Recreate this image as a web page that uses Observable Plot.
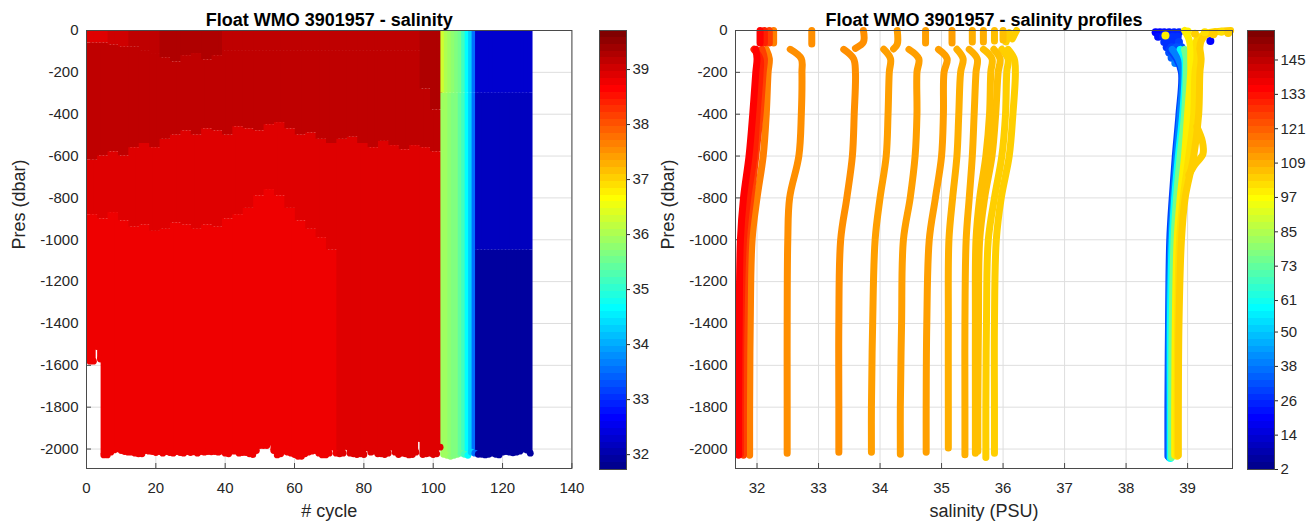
<!DOCTYPE html>
<html><head><meta charset="utf-8">
<script src="https://cdn.jsdelivr.net/npm/d3@7"></script>
<script src="https://cdn.jsdelivr.net/npm/@observablehq/plot@0.6"></script>
<style>
html,body{margin:0;padding:0;background:#fff;}
body{width:1313px;height:523px;overflow:hidden;position:relative;font-family:"Liberation Sans",Arial,sans-serif;}
.pane{position:absolute;top:0;}
</style></head><body>
<div id="leftPlot" class="pane" style="left:0px"></div>
<div id="leftBar" class="pane" style="left:599px"></div>
<div id="rightPlot" class="pane" style="left:660px"></div>
<div id="rightBar" class="pane" style="left:1247px"></div>
<script>
// ---------------- data ----------------
const titleLeft = "Float WMO 3901957 - salinity";
const titleRight = "Float WMO 3901957 - salinity profiles";
const xLabelLeft = "# cycle";
const xLabelRight = "salinity (PSU)";
const yLabel = "Pres (dbar)";

const xTicksLeft = [0, 20, 40, 60, 80, 100, 120, 140];
const xTicksRight = [32, 33, 34, 35, 36, 37, 38, 39];
const yTicks = [0, -200, -400, -600, -800, -1000, -1200, -1400, -1600, -1800, -2000];
const salBarTicks = [32, 33, 34, 35, 36, 37, 38, 39];
const cycleBarTicks = [2, 14, 26, 38, 50, 61, 73, 85, 97, 109, 121, 133, 145];

const salDomain = [31.73, 39.71];
const cycleColourDomain = [2, 155.3];
const presDomain = [-2093, 0];
const cycleDomain = [0, 140];
const salAxisDomain = [31.65, 39.73];

// left panel: cycles and deepest pressure of each cycle
const cycleNums = d3.range(1, 129);
const bottomPres = [
 -1580,-1580,-1510,-1570,-2028,-2028,-2015,-2004,-1999,-2007,
 -2012,-2015,-2015,-2020,-2023,-2023,-2007,-2010,-2012,-2017,
 -2012,-2020,-2012,-2017,-2020,-2012,-2017,-2020,-2012,-2017,
 -2013,-2020,-2012,-2015,-2012,-2013,-2012,-2015,-2010,-2020,
 -2023,-2010,-2010,-2020,-2017,-2017,-2023,-2026,-2007,-1983,
 -1983,-1983,-1967,-2007,-2028,-2023,-2010,-2015,-2020,-2026,
 -2035,-2035,-2023,-2015,-2010,-2007,-2020,-2028,-2028,-2020,
 -1991,-2020,-2023,-2020,-1988,-2020,-2023,-2026,-2023,-2026,
 -1994,-2015,-2010,-2023,-2023,-2026,-2020,-1991,-2015,-2026,
 -2020,-2023,-2028,-2026,-2015,-1950,-2026,-2023,-2020,-2026,
 -2023,-1991,-2025,-2030,-2035,-2030,-2025,-2020,-2025,-2030,
 -2015,-2020,-2025,-2025,-2028,-2025,-2020,-2025,-2028,-2015,
 -2012,-2015,-2018,-2015,-2010,-2000,-2005,-2020];

// cycles 1-102 (salty water), described in blocks of 3 cycles
const surfBandSal = [38.95,38.95,39.02,39.02,39.1,39.15,39.2,39.27,39.27,39.27,39.27,39.27,39.27,39.2,39.15,39.15,39.15,39.15,39.15,39.15,39.15,39.15,39.15,39.15,39.15,39.15,39.15,39.15,39.15,39.15,39.15,39.15,39.27,39.27];
const surfBandBottom = [-60,-60,-70,-80,-80,-100,-110,-130,-150,-120,-110,-140,-120,-100,-100,-100,-100,-100,-100,-100,-100,-100,-100,-100,-100,-100,-100,-100,-100,-100,-100,-100,-280,-380];
const upperLayerBottom = [-620,-600,-580,-600,-560,-540,-560,-520,-500,-480,-500,-470,-480,-500,-460,-470,-480,-450,-440,-470,-500,-490,-520,-540,-520,-510,-540,-560,-530,-550,-570,-550,-560,-580];
const midLayerBottom = [-880,-900,-870,-910,-940,-930,-960,-950,-920,-930,-950,-930,-940,-900,-880,-850,-790,-760,-790,-850,-910,-950,-990,-1050];
const upperSal = 39.15, midSal = 38.9, deepSal = 38.8;
// cycles 103-112
const stripSplit = -300;
const stripUpperSal = [36.25, 36.05, 35.9, 35.8, 35.7, 35.5, 35.15, 34.7, 34.3, 33.6];
const stripLowerSal = [35.95, 35.85, 35.75, 35.7, 35.65, 35.45, 35.1, 34.7, 34.3, 33.5];
// cycles 113-128
const blueBreaks = [-300, -1050];
const blueSal = [32.3, 32.15, 31.9];

// right panel: profiles (colour value on the right colour bar)
const stdPres = [-90, -135, -200, -400, -600, -800, -1000, -1400, -1800];
const profColour = [30, 40, 58, 76, 98, 101, 104, 103, 104, 106, 106, 109, 109, 111, 111, 111, 113, 114, 116, 126, 130, 135];
const profMainSal = [
 [38.70,38.82,38.90,38.86,38.80,38.75,38.71,38.69,38.68,38.68],
 [38.75,38.85,38.92,38.88,38.82,38.77,38.73,38.70,38.70,38.70],
 [38.88,38.95,38.96,38.92,38.85,38.79,38.75,38.72,38.72,38.72],
 [38.95,38.98,38.98,38.95,38.88,38.82,38.78,38.75,38.74,38.74],
 [39.05,39.05,39.05,39.00,38.95,38.88,38.83,38.80,38.79,38.79],
 [39.15,39.15,39.12,39.10,39.02,38.93,38.87,38.84,38.83,38.83],
 [39.20,39.22,39.20,39.18,39.10,38.96,38.90,38.86,38.85,38.85],
 [36.08,36.18,36.20,36.16,36.10,35.97,35.89,35.86,35.86,35.86],
 [35.98,36.08,36.06,36.04,35.98,35.86,35.76,35.73,35.72,35.72],
 [35.85,35.95,35.92,35.88,35.82,35.70,35.62,35.60,35.59,35.59],
 [35.68,35.82,35.80,35.78,35.72,35.62,35.56,35.55,35.55,35.55],
 [35.45,35.58,35.56,35.53,35.50,35.45,35.40,35.38,35.38,35.38],
 [35.25,35.35,35.31,35.28,35.25,35.18,35.12,35.11,35.11,35.11],
 [34.95,35.09,35.04,35.03,35.00,34.90,34.80,34.76,34.75,34.75],
 [34.47,34.63,34.60,34.60,34.57,34.49,34.38,34.35,34.33,34.33],
 [34.06,34.17,34.15,34.13,34.10,34.00,33.92,33.88,33.86,33.86],
 [33.41,33.57,33.60,33.58,33.55,33.46,33.36,33.33,33.33,33.33],
 [32.54,32.72,32.73,32.72,32.68,32.53,32.50,32.49,32.49,32.49],
 [32.15,32.20,32.18,32.15,32.10,32.00,31.92,31.89,31.88,31.88],
 [32.08,32.12,32.10,32.05,31.98,31.90,31.82,31.79,31.78,31.78],
 [31.95,32.05,32.05,32.00,31.95,31.85,31.78,31.74,31.73,31.73],
 [31.98,32.00,31.98,31.93,31.87,31.78,31.73,31.71,31.70,31.70]];
const profBottom = [-2035,-2040,-2045,-2040,-2030,-2035,-2030,-2020,-2040,-2010,-2020,-2027,-1995,-2015,-2025,-2015,-2015,-2020,-2030,-2030,-2025,-2030];
// near-surface pieces of each profile
const profSurfSal = [[],[],[],[],[38.95,39.02,39.05],[39.45,39.3,39.15,39.15],[39.7,39.5,39.3,39.22,39.2],
 [36.22,36.15],[36.1,36.05],[36.0,36.0],[35.86,35.86],[35.68,35.68],[35.5,35.5],[35.17,35.17],[34.74,34.74],
 [34.28,34.28,34.22],[33.73,33.73,33.6],[32.89,32.89],[32.27,32.27],[32.2,32.2],[32.12,32.12],[32.05,32.05]];
const profSurfPres = [[],[],[],[],[0,-40,-80],[-5,-15,-45,-80],[0,-5,-20,-50,-80],
 [0,-40],[-10,-55],[0,-45],[0,-50],[0,-55],[0,-55],[0,-60],[0,-60],
 [0,-65,-88],[0,-55,-85],[0,-65],[0,-60],[0,-60],[0,-60],[0,-60]];
// mid-depth loop of the saltiest profile
const loopSal = [39.15, 39.24, 39.25, 39.12, 39.02];
const loopPres = [-460, -530, -590, -640, -690];
// scattered near-surface samples in the salty cluster
const blobSal = [38.48,38.55,38.62,38.70,38.78,38.86, 38.52,38.60,38.68,38.76,38.84, 38.62,38.70,38.78,38.86, 38.66,38.74,38.82,38.90, 38.70,38.78,38.86,38.94, 38.74,38.82,38.90, 38.80,38.88,38.95, 39.37,
                 39.0,39.12,39.28,39.42,39.55,39.66, 38.64];
const blobPres = [-8,-8,-8,-8,-8,-8, -30,-30,-30,-30,-30, -55,-55,-55,-55, -80,-80,-80,-80, -105,-105,-105,-105, -130,-130,-130, -155,-155,-155, -50,
                  -5,-15,-8,-18,-6,-12, -24];
const blobColour = [20,20,22,22,24,24, 22,24,24,26,26, 26,28,28,30, 28,30,32,32, 32,34,34,36, 34,36,38, 38,40,42, 20,
                    100,103,101,103,101,103, 100];

// ---------------- colour map (MATLAB jet, 64 levels) ----------------
function jet64(t) {
  const i = Math.max(1, Math.min(64, Math.floor(t * 64) + 1));
  const u = k => (k < 1 || k > 47) ? 0 : k <= 16 ? k / 16 : k <= 31 ? 1 : (48 - k) / 16;
  const r = u(i - 24), g = u(i - 8), b = u(i + 8);
  return `rgb(${Math.round(255*r)},${Math.round(255*g)},${Math.round(255*b)})`;
}

// ---------------- build tables ----------------
const cells = [], bottomDots = [];
cycleNums.forEach((c, k) => {
  const bottom = bottomPres[k];
  let layers;
  if (c <= 102) {
    const b = Math.floor((c - 1) / 3);
    const hasDeep = b < midLayerBottom.length;
    const lower = hasDeep ? midLayerBottom[b] : bottom;
    layers = [[0, surfBandBottom[b], surfBandSal[b]], [surfBandBottom[b], upperLayerBottom[b], upperSal], [upperLayerBottom[b], lower, midSal]];
    if (hasDeep) layers.push([lower, bottom, deepSal]);
  } else if (c <= 112) {
    const j = c - 103;
    layers = [[0, stripSplit, stripUpperSal[j]], [stripSplit, bottom, stripLowerSal[j]]];
  } else {
    layers = [[0, blueBreaks[0], blueSal[0]], [blueBreaks[0], blueBreaks[1], blueSal[1]], [blueBreaks[1], bottom, blueSal[2]]];
  }
  let last = null;
  for (const [p1, p2, sal] of layers) {
    const lo = Math.max(p2, bottom);
    if (lo < p1) { cells.push({x1: c - 0.5, x2: c + 0.5, p1, p2: lo, sal}); last = sal; }
  }
  bottomDots.push({cycle: c, pres: bottom, sal: last});
});

const lineRows = [];
const order = d3.range(profColour.length).sort((a, b) => profColour[a] - profColour[b]);
for (const i of order) {
  const col = profColour[i];
  profSurfSal[i].forEach((s, j) => lineRows.push({id: i + "s", sal: s, pres: profSurfPres[i][j], col}));
  const pres = [...stdPres, profBottom[i]];
  profMainSal[i].forEach((s, j) => lineRows.push({id: i + "m", sal: s, pres: pres[j], col}));
  if (i === 6) loopSal.forEach((s, j) => lineRows.push({id: "loop", sal: s, pres: loopPres[j], col}));
}
const blobs = blobSal.map((s, j) => ({sal: s, pres: blobPres[j], col: blobColour[j]}));
const blobsBlue = blobs.filter(d => d.col < 60);
const blobsYellow = blobs.filter(d => d.col >= 60);

// ---------------- plots ----------------
const fontFamily = '"Liberation Sans", Arial, Helvetica, sans-serif';
const baseStyle = {fontFamily, fontSize: "15px", color: "#262626", background: "transparent", overflow: "visible"};
const gridColour = "#dedede";
const frameColour = "#4a4a4a";
const fmt = d => String(d);

function titleMarks(title, xlab) {
  return [
    Plot.text([title], {text: d => d, frameAnchor: "top", dy: -10, lineAnchor: "middle", fontWeight: "bold", fontSize: 18, fill: "#000"}),
    Plot.text([xlab], {text: d => d, frameAnchor: "bottom", dy: 43, lineAnchor: "middle", fontSize: 18, fill: "#262626"}),
    Plot.text([yLabel], {text: d => d, frameAnchor: "left", dx: -67, rotate: -90, lineAnchor: "middle", fontSize: 18, fill: "#262626"})
  ];
}

const leftW = 590, leftML = 86, leftMR = 18.6, mt = 30, mb = 55;
const leftInner = leftW - leftML - leftMR, innerH = 523 - mt - mb;
const left = Plot.plot({
  width: leftW, height: 523,
  marginLeft: leftML, marginRight: leftMR, marginTop: mt, marginBottom: mb,
  style: baseStyle,
  x: {domain: cycleDomain, ticks: xTicksLeft, tickSize: 0, tickPadding: 14, tickFormat: fmt, label: null},
  y: {domain: presDomain, ticks: yTicks, tickSize: 0, tickPadding: 8, tickFormat: fmt, label: null},
  color: {type: "linear", domain: salDomain, interpolate: jet64, clamp: true},
  marks: [
    Plot.gridX(xTicksLeft, {stroke: gridColour, strokeOpacity: 1}),
    Plot.gridY(yTicks, {stroke: gridColour, strokeOpacity: 1}),
    Plot.ruleX(xTicksLeft, {stroke: frameColour, insetTop: innerH - 5}),
    Plot.ruleY(yTicks, {stroke: frameColour, insetRight: leftInner - 5}),
    Plot.rect(cells, {x1: "x1", x2: "x2", y1: "p1", y2: "p2", fill: "sal", insetLeft: -1, insetRight: -1}),
    Plot.dot(bottomDots, {x: "cycle", y: "pres", r: 3.4, fill: "sal", stroke: null}),
    Plot.frame({stroke: frameColour}),
    ...titleMarks(titleLeft, xLabelLeft)
  ]
});
document.getElementById("leftPlot").append(left);

const rightW = 590, rightML = 75, rightMR = 18;
const rightInner = rightW - rightML - rightMR;
const right = Plot.plot({
  width: rightW, height: 523,
  marginLeft: rightML, marginRight: rightMR, marginTop: mt, marginBottom: mb,
  style: baseStyle,
  x: {domain: salAxisDomain, ticks: xTicksRight, tickSize: 0, tickPadding: 14, tickFormat: fmt, label: null},
  y: {domain: presDomain, ticks: yTicks, tickSize: 0, tickPadding: 8, tickFormat: fmt, label: null},
  color: {type: "linear", domain: cycleColourDomain, interpolate: jet64, clamp: true},
  marks: [
    Plot.gridX(xTicksRight, {stroke: gridColour, strokeOpacity: 1}),
    Plot.gridY(yTicks, {stroke: gridColour, strokeOpacity: 1}),
    Plot.ruleX(xTicksRight, {stroke: frameColour, insetTop: innerH - 5}),
    Plot.ruleY(yTicks, {stroke: frameColour, insetRight: rightInner - 5}),
    Plot.dot(blobsBlue, {x: "sal", y: "pres", r: 4, fill: "col", stroke: null}),
    Plot.line(lineRows, {x: "sal", y: "pres", z: "id", stroke: "col", strokeWidth: 7, strokeLinecap: "round", strokeLinejoin: "round", curve: "catmull-rom"}),
    Plot.dot(blobsYellow, {x: "sal", y: "pres", r: 4, fill: "col", stroke: null}),
    Plot.frame({stroke: frameColour}),
    ...titleMarks(titleRight, xLabelRight)
  ]
});
document.getElementById("rightPlot").append(right);

function colourBar(domain, ticks) {
  const [lo, hi] = domain;
  const bands = d3.range(64).map(i => ({y1: lo + (hi - lo) * i / 64, y2: lo + (hi - lo) * (i + 1) / 64, v: lo + (hi - lo) * (i + 0.5) / 64}));
  return Plot.plot({
    width: 66, height: 523,
    marginLeft: 0, marginRight: 39, marginTop: 30, marginBottom: 54,
    style: baseStyle,
    x: {axis: null, domain: [0, 1]},
    y: {domain, ticks, axis: "right", tickSize: 3, tickPadding: 3, tickFormat: fmt, label: null},
    color: {type: "linear", domain, interpolate: jet64, clamp: true},
    marks: [
      Plot.rect(bands, {y1: "y1", y2: "y2", fill: "v", shapeRendering: "crispEdges"}),
      Plot.frame({stroke: frameColour})
    ]
  });
}
document.getElementById("leftBar").append(colourBar(salDomain, salBarTicks));
document.getElementById("rightBar").append(colourBar(cycleColourDomain, cycleBarTicks));
</script>
</body></html>
